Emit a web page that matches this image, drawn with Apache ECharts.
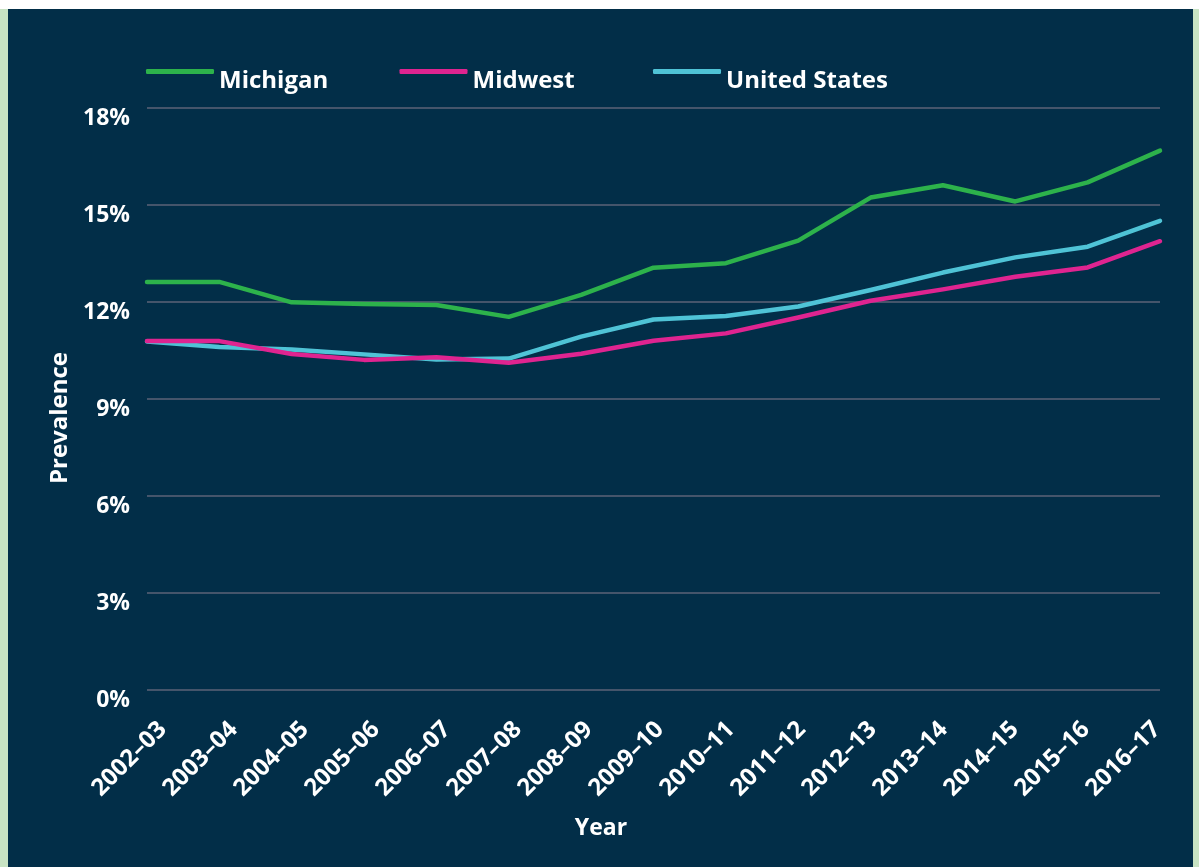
<!DOCTYPE html>
<html>
<head>
<meta charset="utf-8">
<title>Prevalence</title>
<script src="https://cdn.jsdelivr.net/npm/echarts@6/dist/echarts.min.js"></script>
<style>
  html, body { margin: 0; padding: 0; background: #fff; }
  .frame {
    position: absolute;
    left: 0;
    top: 9px;
    width: 1199px;
    height: 858px;
    background: #c8e3c3;
  }
  #chart {
    position: absolute;
    left: 8px;
    top: 0;
    width: 1185px;
    height: 858px;
    background: #022e48;
  }
</style>
</head>
<body>
<div class="frame">
  <div id="chart"></div>
</div>
<script>
// school years on the x axis
const years = ['2002–03', '2003–04', '2004–05', '2005–06', '2006–07', '2007–08', '2008–09',
  '2009–10', '2010–11', '2011–12', '2012–13', '2013–14', '2014–15', '2015–16', '2016–17']

// prevalence, in percent
const michigan = [12.62, 12.62, 11.99, 11.94, 11.91, 11.54, 12.22, 13.06, 13.2, 13.9, 15.23, 15.61, 15.11, 15.7, 16.68]
const midwest = [10.79, 10.79, 10.39, 10.21, 10.29, 10.12, 10.4, 10.8, 11.03, 11.52, 12.04, 12.39, 12.78, 13.07, 13.88]
const unitedStates = [10.78, 10.61, 10.53, 10.38, 10.22, 10.25, 10.93, 11.46, 11.57, 11.86, 12.37, 12.91, 13.38, 13.71, 14.51]

const legendNames = ['Michigan', 'Midwest', 'United States']

const FONT = '"Open Sans", "Noto Sans", sans-serif'
const boldWhite = { color: '#fff', fontFamily: FONT, fontWeight: 'bold' }

const lineSeries = (name, data, color) => ({
  name,
  type: 'line',
  data,
  showSymbol: false,
  symbol: 'none',
  itemStyle: { color },
  lineStyle: { color, width: 4.5, cap: 'round', join: 'round' },
  emphasis: { disabled: true }
})

// one legend block per series, spaced like the original
const legends = legendNames.map((name, i) => ({
  data: [name],
  left: 133 + i * 253.5,
  top: 55,
  icon: 'roundRect',
  itemWidth: 68,
  itemHeight: 5,
  formatter: '{t|{name}}',
  textStyle: {
    ...boldWhite,
    fontSize: 24,
    rich: { t: { ...boldWhite, fontSize: 24, padding: [19, 0, 0, 0] } }
  }
}))

const chart = echarts.init(document.getElementById('chart'))

const option = {
  backgroundColor: '#022e48',
  animation: false,
  textStyle: { fontFamily: FONT },
  legend: legends,
  grid: [
    { left: 139, top: 99, width: 1013, height: 582 },
    // labels only: the original spreads its year labels a bit tighter than its ticks
    { left: 134.5, top: 99, width: 994, height: 582 }
  ],
  xAxis: [
    {
      type: 'category',
      data: years,
      boundaryGap: false,
      name: 'Year',
      nameLocation: 'middle',
      nameGap: 127,
      nameTextStyle: { ...boldWhite, fontSize: 23, padding: [0, 105, 0, 0] },
      axisLine: { show: false },
      axisTick: { show: false },
      axisLabel: { show: false }
    },
    {
      type: 'category',
      gridIndex: 1,
      data: years,
      boundaryGap: false,
      axisLine: { show: false },
      axisTick: { show: false },
      splitLine: { show: false },
      axisLabel: {
        ...boldWhite,
        interval: 0,
        rotate: 45,
        align: 'center',
        margin: 56,
        padding: [0, 37, 0, 0],
        fontSize: 24
      }
    }
  ],
  yAxis: [
    {
      type: 'value',
      min: 0,
      max: 18,
      interval: 3,
      name: 'Prevalence',
      nameLocation: 'middle',
      nameGap: 74,
      nameTextStyle: { ...boldWhite, fontSize: 24, padding: [0, 38, 0, 0] },
      axisLine: { show: false },
      axisTick: { show: false },
      axisLabel: {
        ...boldWhite,
        formatter: '{value}%',
        margin: 17,
        verticalAlign: 'top',
        lineHeight: 20,
        fontSize: 23
      },
      splitLine: { lineStyle: { color: '#45556b', width: 2 } }
    },
    {
      type: 'value',
      gridIndex: 1,
      min: 0,
      max: 18,
      show: false
    }
  ],
  series: [
    lineSeries('United States', unitedStates, '#4fc3d6'),
    lineSeries('Midwest', midwest, '#df2490'),
    lineSeries('Michigan', michigan, '#2db24b')
  ]
}

chart.setOption(option)
</script>
</body>
</html>
